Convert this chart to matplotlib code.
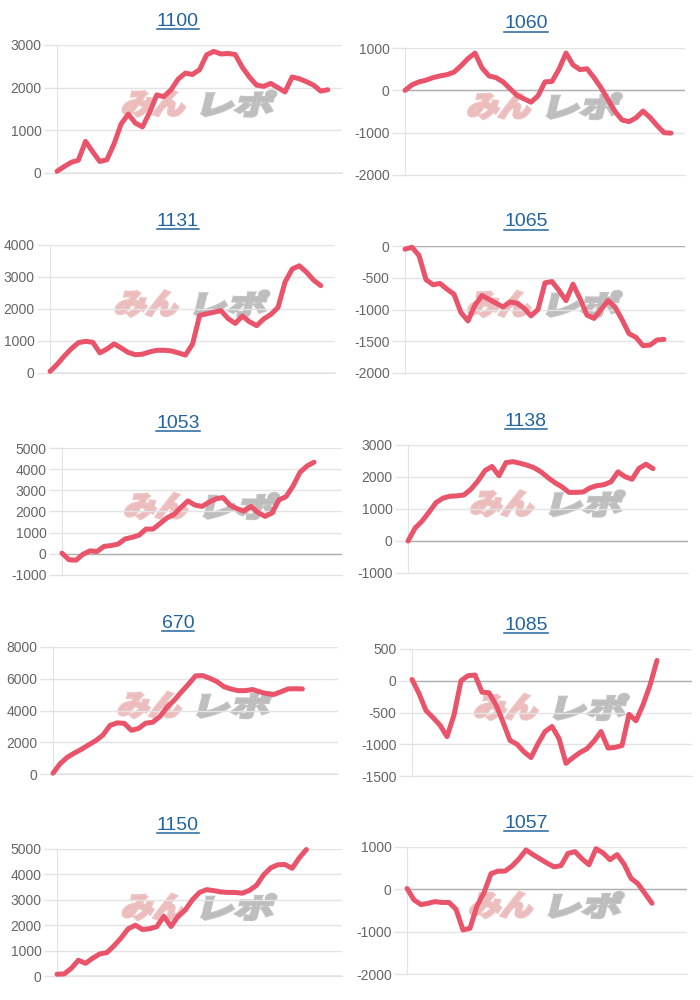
import numpy as np
import matplotlib.pyplot as plt
from matplotlib.textpath import TextPath
from matplotlib.patches import PathPatch
from matplotlib.font_manager import FontProperties
from matplotlib.transforms import Affine2D, IdentityTransform
from matplotlib.lines import Line2D

# category slots on the x axis (data stops before the end in most panels)
N_SLOTS = 41

titles = ['1100', '1060', '1131', '1065', '1053', '1138', '670', '1085', '1150', '1057']

s1100 = [40, 150, 250, 300, 740, 500, 270, 310, 680, 1150, 1380, 1170, 1080, 1420, 1830,
         1790, 1950, 2200, 2340, 2310, 2420, 2770, 2850, 2790, 2800, 2780, 2480, 2250, 2060,
         2030, 2100, 2000, 1900, 2250, 2210, 2140, 2060, 1920, 1950]
s1060 = [0, 130, 200, 240, 300, 340, 370, 430, 580, 750, 880, 530, 340, 300, 200, 40, -120,
         -200, -280, -130, 200, 210, 500, 880, 600, 490, 510, 300, 60, -220, -500, -700, -740,
         -650, -490, -640, -830, -1000, -1010]
s1131 = [50, 270, 530, 760, 950, 990, 960, 630, 750, 910, 780, 640, 570, 590, 660, 710, 710,
         690, 630, 560, 900, 1800, 1850, 1900, 1950, 1700, 1550, 1780, 1600, 1480, 1690, 1830,
         2050, 2850, 3250, 3350, 3150, 2900, 2730]
s1065 = [-50, -20, -150, -530, -610, -590, -680, -760, -1050, -1180, -930, -780, -840, -900,
         -960, -880, -900, -980, -1100, -1000, -580, -560, -700, -860, -600, -830, -1090, -1140,
         -1000, -860, -960, -1160, -1380, -1440, -1570, -1560, -1480, -1470]
s1053 = [30, -280, -300, -20, 140, 110, 350, 390, 460, 700, 780, 880, 1170, 1170, 1430, 1700,
         1860, 2200, 2500, 2300, 2240, 2440, 2600, 2660, 2300, 2130, 2020, 2240, 1950, 1770,
         1930, 2550, 2700, 3200, 3850, 4150, 4330]
s1138 = [0, 400, 620, 900, 1200, 1340, 1400, 1410, 1440, 1620, 1880, 2200, 2330, 2040, 2450,
         2480, 2430, 2370, 2290, 2160, 1980, 1820, 1690, 1520, 1520, 1530, 1660, 1730, 1760,
         1850, 2160, 2010, 1930, 2270, 2400, 2260]
s670 = [50, 650, 1050, 1320, 1560, 1840, 2100, 2450, 3060, 3220, 3190, 2750, 2870, 3200, 3260,
        3620, 4200, 4640, 5160, 5650, 6180, 6200, 6030, 5820, 5500, 5350, 5250, 5250, 5320,
        5180, 5060, 5010, 5180, 5360, 5370, 5360]
s1085 = [20, -200, -470, -580, -700, -880, -540, 0, 80, 90, -180, -190, -380, -650, -940,
         -1000, -1120, -1210, -990, -800, -720, -910, -1300, -1210, -1130, -1070, -950, -800,
         -1060, -1050, -1020, -530, -630, -380, -70, 320]
s1150 = [70, 80, 300, 620, 500, 700, 870, 920, 1190, 1500, 1860, 2000, 1830, 1860, 1940, 2350,
         1950, 2350, 2600, 3000, 3290, 3400, 3360, 3310, 3290, 3290, 3260, 3370, 3570, 3980,
         4260, 4380, 4390, 4240, 4650, 4980]
s1057 = [20, -250, -360, -330, -290, -310, -310, -470, -960, -920, -390, -80, 370, 430, 430,
         550, 720, 930, 820, 720, 620, 530, 560, 850, 890, 720, 580, 960, 860, 700, 820, 600,
         260, 130, -100, -330]

series = [s1100, s1060, s1131, s1065, s1053, s1138, s670, s1085, s1150, s1057]

y_ticks = [
    [0, 1000, 2000, 3000],
    [-2000, -1000, 0, 1000],
    [0, 1000, 2000, 3000, 4000],
    [-2000, -1500, -1000, -500, 0],
    [-1000, 0, 1000, 2000, 3000, 4000, 5000],
    [-1000, 0, 1000, 2000, 3000],
    [0, 2000, 4000, 6000, 8000],
    [-1500, -1000, -500, 0, 500],
    [0, 1000, 2000, 3000, 4000, 5000],
    [-2000, -1000, 0, 1000],
]

# plot boxes in pixels: left, top, right, bottom
boxes = [
    (57, 45, 342, 173), (405, 48, 685, 175),
    (50, 245, 335, 373), (405, 246, 685, 373),
    (62, 448, 342, 575), (408, 445, 688, 573),
    (53, 647, 338, 774), (412, 649, 692, 776),
    (57, 849, 342, 976), (407, 847, 687, 974),
]

W, H = 700, 1000
LINE = '#e9546b'
GRID = '#e3e3e3'
ZERO = '#b0b0b0'
LINK = '#23649e'

plt.rcParams['font.family'] = ['Liberation Sans', 'DejaVu Sans']
fig = plt.figure(figsize=(W / 100, H / 100), dpi=100)
fig.patch.set_facecolor('white')

wm_font = FontProperties(family=['Noto Sans CJK JP'], weight='bold')
SHEAR = 14


def logo_part(txt, col, x0, x1, y0, y1):
    # fit the glyph ink into a pixel box, sheared like the original logo
    tp = TextPath((0, 0), txt, size=40, prop=wm_font)
    ext = tp.get_extents()
    h = y1 - y0
    w = (x1 - x0) - h * np.tan(np.radians(SHEAR))
    tr = (Affine2D().translate(-ext.x0, -ext.y0)
          .scale(w / ext.width, h / ext.height)
          .skew_deg(SHEAR, 0).translate(x0, y0))
    fig.patches.append(PathPatch(tp, facecolor=col, edgecolor=col, lw=2.4, alpha=0.9,
                                 joinstyle='miter', transform=tr + IdentityTransform(),
                                 zorder=1))


def watermark(cx, cy):
    # cx, cy: axes centre in display pixels
    logo_part('みん', '#ecbcbc', cx - 78, cx - 11, cy - 7, cy + 18)
    logo_part('レポ', '#bcbcbc', cx + 2, cx + 77, cy - 7, cy + 18)


title_texts = []
for i, (vals, ticks, box, title) in enumerate(zip(series, y_ticks, boxes, titles)):
    l, t, r, b = box
    ax = fig.add_axes([l / W, 1 - b / H, (r - l) / W, (b - t) / H])
    ax.set_facecolor('none')
    ax.set_zorder(2)
    ax.plot(range(len(vals)), vals, color=LINE, lw=3.6, solid_joinstyle='round',
            solid_capstyle='round', clip_on=False, zorder=3)
    ax.set_xlim(0, N_SLOTS - 1)
    ax.set_ylim(ticks[0], ticks[-1])
    ax.set_yticks(ticks)
    ax.set_yticklabels([str(v) for v in ticks])
    ax.set_xticks([])
    ax.tick_params(axis='y', length=9.5, width=1, color=GRID, pad=1.5, labelsize=10,
                   labelcolor='#666666')
    ax.grid(axis='y', color=GRID, lw=1)
    ax.set_axisbelow(True)
    ax.axhline(0, color=ZERO, lw=1, zorder=1.5)
    for s in ['top', 'right']:
        ax.spines[s].set_visible(False)
    ax.spines['left'].set_color(GRID)
    ax.spines['bottom'].set_color(GRID)

    col_center = 178 if i % 2 == 0 else 526
    tt = fig.text(col_center / W, 1 - (t - 24) / H, title, color=LINK, fontsize=14,
                  ha='center', va='center')
    title_texts.append(tt)

    watermark((l + r) / 2, H - (t + b) / 2)

# underline the titles (they are links in the original)
fig.canvas.draw()
for tt in title_texts:
    bb = tt.get_window_extent()
    fig.add_artist(Line2D([bb.x0, bb.x1], [bb.y0 + 1, bb.y0 + 1], color=LINK, lw=1.1,
                          transform=IdentityTransform()))

fig.savefig('out.png', dpi=100)
